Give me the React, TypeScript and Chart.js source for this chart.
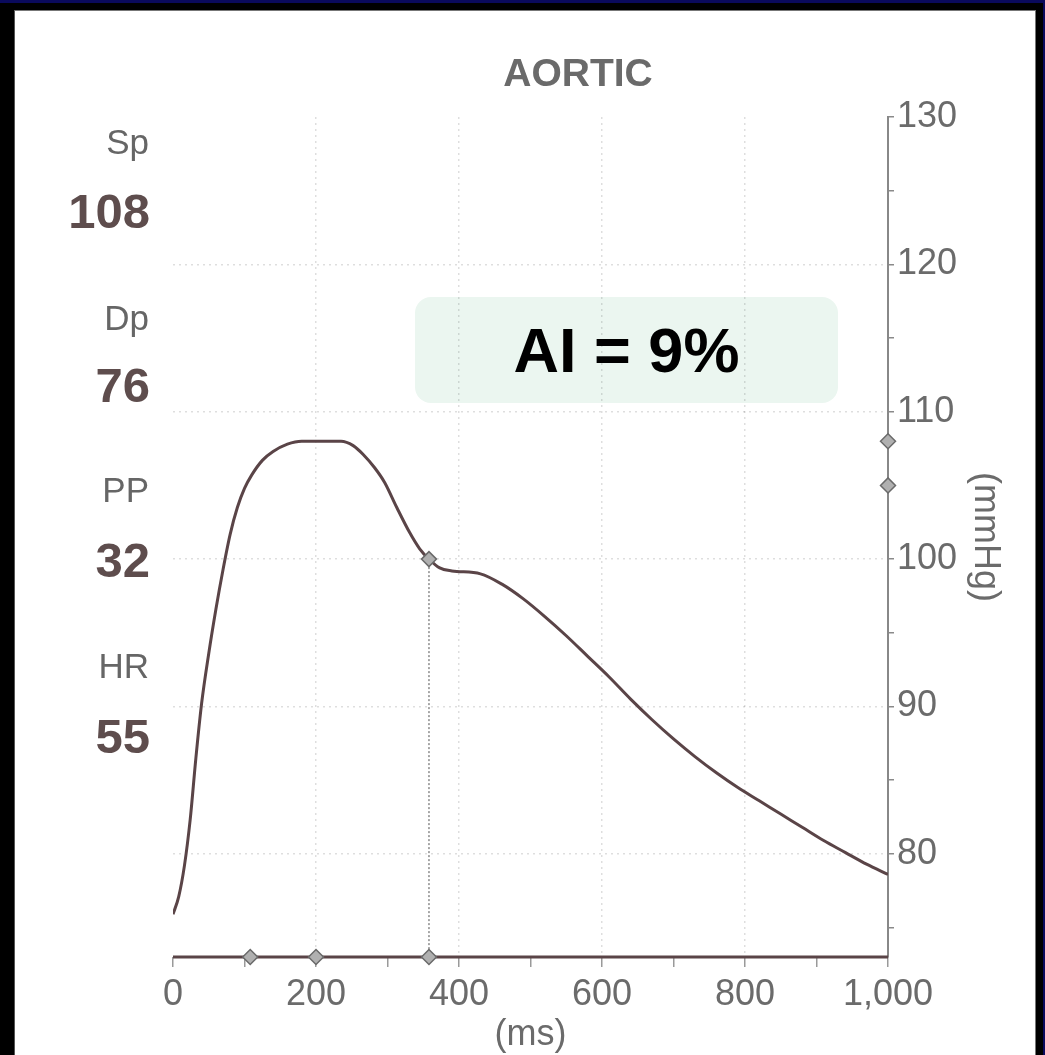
import React, { useEffect, useRef } from "react";
import { Chart, registerables } from "chart.js";

Chart.register(...registerables);

// ---- data ----
const timeMs = [0, 8, 16, 24, 32, 40, 50, 60, 70, 80, 90, 100, 110, 125, 140, 160, 180, 235, 252, 266, 282, 296, 313, 331, 345, 358, 373, 390, 430, 460, 490, 520, 550, 580, 610, 640, 670, 700, 730, 760, 790, 820, 850, 880, 910, 940, 970, 1000];
const pressure = [75.9, 77.1, 79.2, 82.3, 86.5, 90.2, 93.6, 96.6, 99.3, 101.7, 103.5, 104.8, 105.7, 106.7, 107.3, 107.8, 108.0, 108.0, 107.7, 107.1, 106.2, 105.2, 103.5, 101.8, 100.7, 100.0, 99.4, 99.2, 99.0, 98.3, 97.3, 96.1, 94.8, 93.4, 92.0, 90.5, 89.1, 87.8, 86.6, 85.5, 84.5, 83.6, 82.7, 81.8, 80.9, 80.1, 79.3, 78.6];
const baselineMarkerTimes = [108, 200, 358];
const notchTime = 358;
const notchPressure = 100;
const rightAxisMarkers = [108, 105];
const xTickValues = [0, 100, 200, 300, 400, 500, 600, 700, 800, 900, 1000];
const yTickValues = [75, 80, 85, 90, 95, 100, 105, 110, 115, 120, 125, 130];
const yMin = 73;
const yMax = 130;
const xMax = 1000;

const statLabels = ["Sp", "Dp", "PP", "HR"];
const statValues = ["108", "76", "32", "55"];
const aiText = "AI = 9%";

const FONT = '"Liberation Sans", Arial, sans-serif';
const CURVE = "#5a4447";

export default function App() {
  const ref = useRef<HTMLCanvasElement | null>(null);

  useEffect(() => {
    if (!ref.current) return;
    const markerPts = [
      ...baselineMarkerTimes.map((t) => ({ x: t, y: yMin })),
      { x: notchTime, y: notchPressure },
      ...rightAxisMarkers.map((p) => ({ x: xMax, y: p })),
    ];
    const chart = new Chart(ref.current, {
      type: "line",
      data: {
        datasets: [
          {
            data: timeMs.map((t, i) => ({ x: t, y: pressure[i] })),
            borderColor: CURVE,
            borderWidth: 3,
            pointRadius: 0,
            cubicInterpolationMode: "monotone",
            order: 2,
          },
          {
            data: [
              { x: notchTime, y: notchPressure },
              { x: notchTime, y: yMin },
            ],
            borderColor: "#8a8a8a",
            borderWidth: 1.5,
            borderDash: [2, 2],
            pointRadius: 0,
            order: 3,
          },
          {
            data: [
              { x: 0, y: yMin },
              { x: xMax, y: yMin },
            ],
            borderColor: CURVE,
            borderWidth: 3,
            pointRadius: 0,
            clip: false as any,
            order: 1,
          },
          {
            data: markerPts,
            showLine: false,
            pointStyle: "rectRot",
            pointRadius: 7.5,
            pointBackgroundColor: "#b0b0b0",
            pointBorderColor: "#6a6a6a",
            pointBorderWidth: 1.5,
            clip: false as any,
            order: 0,
          },
        ],
      },
      options: {
        responsive: false,
        animation: false,
        events: [],
        layout: { padding: { left: 173, top: 117, right: 42, bottom: 2 } },
        plugins: { legend: { display: false }, tooltip: { enabled: false } },
        scales: {
          x: {
            type: "linear",
            position: "bottom",
            min: 0,
            max: xMax,
            afterBuildTicks: (axis: any) => {
              axis.ticks = xTickValues.map((v) => ({ value: v }));
            },
            afterFit: (axis: any) => {
              axis.height = 96;
            },
            ticks: {
              autoSkip: false,
              maxRotation: 0,
              padding: 6,
              color: "#6b6b6b",
              font: { family: FONT, size: 36 },
              callback: (v: any) => (Number(v) % 200 === 0 ? Number(v).toLocaleString("en-US") : ""),
            },
            grid: {
              color: (ctx: any) => {
                const v = ctx.tick ? ctx.tick.value : 0;
                return v % 200 === 0 && v !== 0 && v !== xMax ? "rgba(0,0,0,0.13)" : "rgba(0,0,0,0)";
              },
              lineWidth: 1.5,
              tickColor: "#9a9a9a",
              tickLength: 10,
              tickWidth: 1.5,
            },
            border: { display: false, dash: [2, 4] },
            title: {
              display: true,
              text: "(ms)",
              color: "#6b6b6b",
              font: { family: FONT, size: 36, lineHeight: 1 },
              padding: { top: 0, bottom: 0 },
            },
          },
          y: {
            type: "linear",
            position: "right",
            min: yMin,
            max: yMax,
            afterBuildTicks: (axis: any) => {
              axis.ticks = yTickValues.map((v) => ({ value: v }));
            },
            afterFit: (axis: any) => {
              axis.width = 115;
            },
            ticks: {
              autoSkip: false,
              padding: 3,
              color: "#6b6b6b",
              font: { family: FONT, size: 36 },
              callback: (v: any) => (Number(v) % 10 === 0 ? String(v) : ""),
            },
            grid: {
              color: (ctx: any) => {
                const v = ctx.tick ? ctx.tick.value : 0;
                return v % 10 === 0 && v !== yMax ? "rgba(0,0,0,0.13)" : "rgba(0,0,0,0)";
              },
              lineWidth: 1.5,
              tickColor: "#8a8a8a",
              tickLength: 6,
              tickWidth: 1.5,
            },
            border: { display: true, color: "#888888", width: 2, dash: [2, 4] },
            title: {
              display: true,
              text: "(mmHg)",
              color: "#6b6b6b",
              font: { family: FONT, size: 36, lineHeight: 1 },
              padding: { top: 0, bottom: 0 },
            },
          },
        },
      } as any,
    });
    return () => chart.destroy();
  }, []);

  const statTops = [142, 211, 318, 385, 490, 560, 666, 736];

  return (
    <div style={{ position: "fixed", left: 0, top: 0, width: 1045, height: 1055, background: "#000", overflow: "hidden" }}>
      <div style={{ position: "absolute", left: 0, top: 0, width: 1045, height: 3, background: "#0a0a5c" }} />
      <div style={{ position: "absolute", right: 0, top: 0, width: 2, height: 1055, background: "#0a0a5c" }} />
      <div
        style={{
          position: "absolute",
          left: 14,
          top: 10,
          width: 1022,
          height: 1050,
          background: "#fff",
          borderTop: "1px solid #777",
          borderRight: "1px solid #777",
          borderLeft: "1px solid #555",
          boxSizing: "border-box",
        }}
      />
      <div
        style={{
          position: "absolute",
          left: 415,
          top: 297,
          width: 423,
          height: 106,
          background: "#ebf6f0",
          borderRadius: 16,
        }}
      />
      <canvas ref={ref} width={1045} height={1055} style={{ position: "absolute", left: 0, top: 0, display: "block" }} />
      <div
        style={{
          position: "absolute",
          left: 415,
          top: 297,
          width: 423,
          height: 106,
          display: "flex",
          alignItems: "center",
          justifyContent: "center",
          fontFamily: FONT,
          fontWeight: 700,
          fontSize: 63,
          color: "#000",
        }}
      >
        {aiText}
      </div>
      <div
        style={{
          position: "absolute",
          left: 378,
          width: 400,
          top: 73 - 22,
          height: 44,
          lineHeight: "44px",
          textAlign: "center",
          fontFamily: FONT,
          fontWeight: 700,
          fontSize: 39,
          color: "#6a6a6a",
        }}
      >
        AORTIC
      </div>
      {statLabels.map((lab, i) => (
        <React.Fragment key={lab}>
          <div
            style={{
              position: "absolute",
              right: 1045 - 149,
              top: statTops[i * 2] - 20,
              height: 40,
              lineHeight: "40px",
              fontFamily: FONT,
              fontSize: 35,
              color: "#666",
              whiteSpace: "nowrap",
            }}
          >
            {lab}
          </div>
          <div
            style={{
              position: "absolute",
              right: 1045 - 150,
              top: statTops[i * 2 + 1] - 28,
              height: 56,
              lineHeight: "56px",
              fontFamily: FONT,
              fontWeight: 700,
              fontSize: 49,
              color: "#5e4d4d",
              whiteSpace: "nowrap",
            }}
          >
            {statValues[i]}
          </div>
        </React.Fragment>
      ))}
    </div>
  );
}
